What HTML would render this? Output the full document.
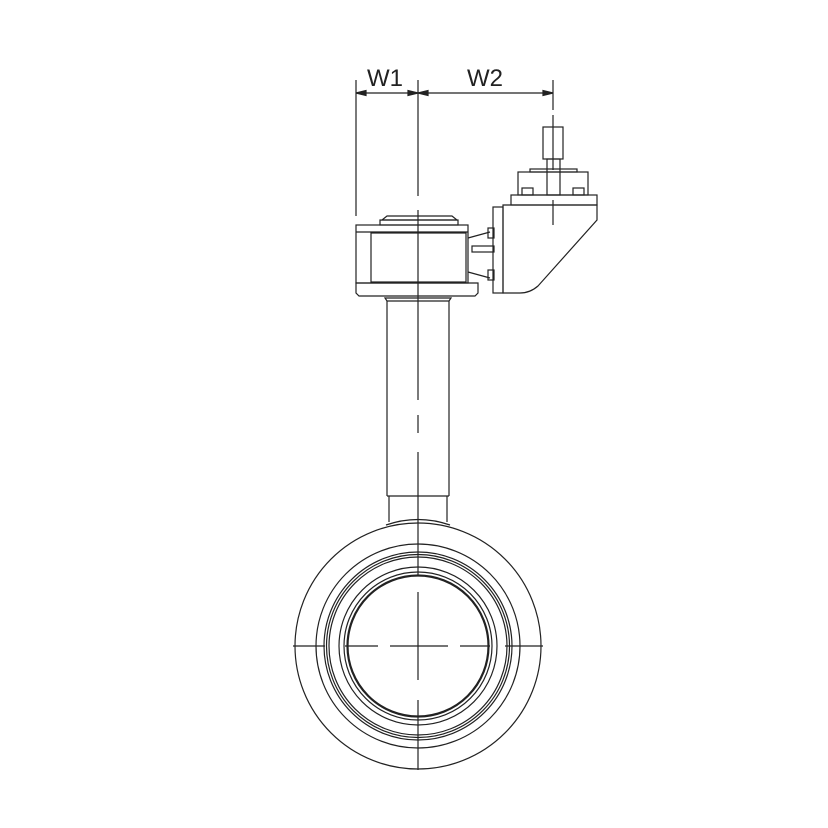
<!DOCTYPE html>
<html><head><meta charset="utf-8"><style>html,body{margin:0;padding:0;background:#fff}svg{display:block}</style></head>
<body>
<svg width="828" height="828" viewBox="0 0 828 828" xmlns="http://www.w3.org/2000/svg" fill="none" stroke="#222" stroke-width="1.2">
<!-- dimension -->
<text x="385" y="86" font-family="Liberation Sans, sans-serif" font-size="24" fill="#222" stroke="none" text-anchor="middle">W1</text>
<text x="485" y="86" font-family="Liberation Sans, sans-serif" font-size="24" fill="#222" stroke="none" text-anchor="middle">W2</text>
<line x1="356" y1="80" x2="356" y2="216"/>
<line x1="553" y1="80" x2="553" y2="110"/>
<line x1="356" y1="93" x2="553" y2="93"/>
<path d="M356 93 l10 -2.5 v5z M418 93 l-10 -2.5 v5z M418 93 l10 -2.5 v5z M553 93 l-10 -2.5 v5z" fill="#222"/>
<!-- centerline -->
<line x1="418" y1="80" x2="418" y2="196"/>
<line x1="418" y1="210" x2="418" y2="400"/>
<line x1="418" y1="415" x2="418" y2="433"/>
<line x1="418" y1="452" x2="418" y2="575"/>
<line x1="418" y1="592" x2="418" y2="680"/>
<line x1="418" y1="700" x2="418" y2="770"/>
<line x1="293" y1="646" x2="325" y2="646"/>
<line x1="345" y1="646" x2="378" y2="646"/>
<line x1="390" y1="646" x2="448" y2="646"/>
<line x1="460" y1="646" x2="490" y2="646"/>
<line x1="505" y1="646" x2="543" y2="646"/>
<!-- gearbox -->
<path d="M387 216 h65 l5 4 h-75z"/>
<rect x="380" y="220" width="78" height="5"/>
<rect x="356" y="225" width="112" height="58"/>
<rect x="371" y="233" width="95" height="49"/>
<line x1="356" y1="232" x2="468" y2="232"/>
<path d="M356 283 h122 v10 l-3 3 h-116 l-3 -3z"/>
<!-- connector -->
<path d="M468 238 L490 232 M468 272 L490 278"/>
<rect x="472" y="246" width="22" height="6"/>
<rect x="488" y="228" width="6" height="10"/>
<rect x="488" y="270" width="6" height="10"/>
<!-- bracket -->
<rect x="493" y="207" width="10" height="86"/>
<path d="M503 205 H597 V220 L538 286 Q530 293 520 293 H503z"/>
<rect x="511" y="195" width="86" height="10"/>
<rect x="518" y="172" width="70" height="23"/>
<rect x="530" y="169" width="47" height="3"/>
<rect x="522" y="188" width="11" height="7"/>
<rect x="573" y="188" width="11" height="7"/>
<rect x="547" y="159" width="13" height="36"/>
<rect x="543" y="127" width="20" height="32"/>
<line x1="553" y1="115" x2="553" y2="170"/>
<line x1="553" y1="200" x2="553" y2="225"/>
<!-- stem -->
<path d="M385 298 h66 l-2 3 h-62z"/>
<line x1="387" y1="301" x2="387" y2="496"/>
<line x1="449" y1="301" x2="449" y2="496"/>
<line x1="387" y1="496" x2="449" y2="496"/>
<line x1="389" y1="496" x2="389" y2="522"/>
<line x1="447" y1="496" x2="447" y2="522"/>
<path d="M386 525 Q418 514 450 525"/>
<!-- body -->
<circle cx="418" cy="646" r="123"/>
<circle cx="418" cy="646" r="102"/>
<circle cx="418" cy="646" r="94"/>
<circle cx="418" cy="646" r="91.5"/>
<circle cx="418" cy="646" r="89"/>
<circle cx="418" cy="646" r="79"/>
<circle cx="418" cy="646" r="74"/>
<circle cx="418" cy="646" r="70.5" stroke-width="2.2"/>
</svg>
</body></html>
